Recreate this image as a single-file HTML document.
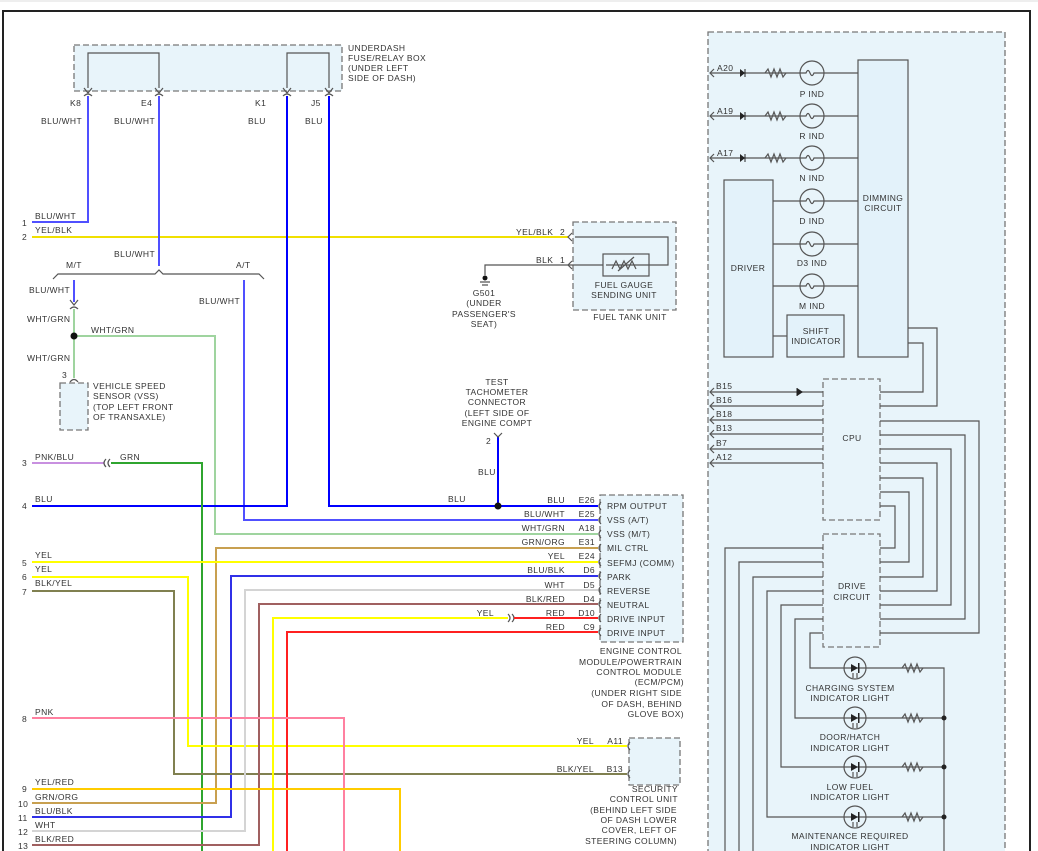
<!DOCTYPE html>
<html><head><meta charset="utf-8"><style>
html,body{margin:0;padding:0;background:#fff;}
svg{display:block;}
text{font-family:"Liberation Sans",sans-serif;font-size:8.5px;fill:#333;letter-spacing:0.4px;}
.w{fill:none;stroke-width:2;}
.g{fill:none;stroke:#555;stroke-width:1.2;}
.d{fill:#e8f4fa;stroke:#777;stroke-width:1.3;stroke-dasharray:6,3;}
.s{fill:#e3f2fa;stroke:#555;stroke-width:1.2;}
.r{text-anchor:end;}
.m{text-anchor:middle;}
</style></head><body>
<svg width="1038" height="851" viewBox="0 0 1038 851" xmlns="http://www.w3.org/2000/svg">
<rect x="0" y="0" width="1038" height="851" fill="#fff"/>
<line x1="0" y1="1" x2="1038" y2="1" stroke="#ddd"/>
<path d="M3 851 V11 H1030 V851" fill="none" stroke="#222" stroke-width="2"/>

<!-- Fuse box -->
<rect class="d" x="74" y="45" width="268" height="46"/>
<path class="g" d="M88 88 V53 H159 V88 M287 88 V53 H329 V88"/>
<g class="g"><path d="M84 88 L88 93 L92 88 M155 88 L159 93 L163 88 M283 88 L287 93 L291 88 M325 88 L329 93 L333 88"/>
<path d="M84 96 Q88 92 92 96 M155 96 Q159 92 163 96 M283 96 Q287 92 291 96 M325 96 Q329 92 333 96"/></g>
<text x="348" y="51">UNDERDASH</text><text x="348" y="61">FUSE/RELAY BOX</text><text x="348" y="71">(UNDER LEFT</text><text x="348" y="81">SIDE OF DASH)</text>
<text x="70" y="106">K8</text><text x="141" y="106">E4</text><text x="255" y="106">K1</text><text x="311" y="106">J5</text>
<text x="41" y="124">BLU/WHT</text><text x="114" y="124">BLU/WHT</text><text x="248" y="124">BLU</text><text x="305" y="124">BLU</text>

<!-- wires top-left -->
<path class="w" stroke="#5050ff" d="M88 96 V222 H32"/>
<text x="22" y="226">1</text><text x="35" y="219">BLU/WHT</text>
<path class="w" stroke="#f0e000" d="M32 237 H568"/>
<text x="22" y="240">2</text><text x="35" y="233">YEL/BLK</text>
<path class="w" stroke="#5050ff" d="M159 96 V266"/>
<text x="114" y="257">BLU/WHT</text>
<path class="g" d="M53 279 L58 274 H155 L159 270 L163 274 H259 L264 279"/>
<text x="66" y="268">M/T</text><text x="236" y="268">A/T</text>
<path class="w" stroke="#5050ff" d="M74 280 V302"/>
<path class="g" d="M70 300 L74 305 L78 300 M70 309 Q74 305 78 309"/>
<text x="29" y="293">BLU/WHT</text>
<path class="w" stroke="#9fd49f" d="M74 309 V378 M74 336 H215 V534 H598"/>
<circle cx="74" cy="336" r="3.5" fill="#111"/>
<text x="27" y="322">WHT/GRN</text><text x="91" y="333">WHT/GRN</text><text x="27" y="361">WHT/GRN</text>
<path class="g" d="M70 382 Q74 377 78 382"/><text x="62" y="378">3</text>
<rect class="d" x="60" y="383" width="28" height="47"/>
<text x="93" y="389">VEHICLE SPEED</text><text x="93" y="399">SENSOR (VSS)</text><text x="93" y="410">(TOP LEFT FRONT</text><text x="93" y="420">OF TRANSAXLE)</text>
<path class="w" stroke="#5050ff" d="M244 280 V520 H598"/>
<text x="199" y="304">BLU/WHT</text>

<!-- K1 / J5 -->
<path class="w" stroke="#0000ff" d="M287 96 V506 H32"/>
<text x="22" y="509">4</text><text x="35" y="502">BLU</text>
<path class="w" stroke="#0000ff" d="M329 96 V506 H598 M498 437 V506"/>
<circle cx="498" cy="506" r="3.5" fill="#111"/>
<path class="g" d="M494 433 L498 437 L502 433"/>
<text x="486" y="444">2</text><text x="478" y="475">BLU</text><text x="448" y="502">BLU</text>
<text class="m" x="497" y="385">TEST</text><text class="m" x="497" y="395">TACHOMETER</text><text class="m" x="497" y="405">CONNECTOR</text><text class="m" x="497" y="416">(LEFT SIDE OF</text><text class="m" x="497" y="426">ENGINE COMPT</text>

<!-- fuel tank -->
<rect class="d" x="573" y="222" width="103" height="88"/>
<path class="g" d="M485 275 V265 H603 M575 237 H668 V265 H649"/>
<rect class="g" x="603" y="254" width="46" height="22" fill="none"/>
<path class="g" d="M606 265 H649 M612 269 L616 261 L620 269 L624 261 L628 269 L632 261 L636 269 M618 271 L634 257"/>
<path class="g" d="M572 233 L568 237 L572 241 M572 261 L568 265 L572 269"/>
<circle cx="485" cy="278" r="2.5" fill="#111"/><path class="g" d="M480 282 H490 M482 285 H488"/>
<text x="516" y="235">YEL/BLK</text><text x="560" y="235">2</text><text x="536" y="263">BLK</text><text x="560" y="263">1</text>
<text class="m" x="624" y="288">FUEL GAUGE</text><text class="m" x="624" y="298">SENDING UNIT</text><text class="m" x="630" y="320">FUEL TANK UNIT</text>
<text class="m" x="484" y="296">G501</text><text class="m" x="484" y="306">(UNDER</text><text class="m" x="484" y="317">PASSENGER'S</text><text class="m" x="484" y="327">SEAT)</text>

<!-- left wires -->
<path class="w" stroke="#c890e0" d="M32 463 H104"/>
<path class="g" d="M106 459 Q102 463 106 467 M110 459 Q106 463 110 467"/>
<path class="w" stroke="#2fa52f" d="M111 463 H202 V851"/>
<text x="22" y="466">3</text><text x="35" y="460">PNK/BLU</text><text x="120" y="460">GRN</text>
<path class="w" stroke="#c8a050" d="M598 548 H216 V803 H32"/>
<path class="w" stroke="#ffff00" d="M32 562 H598"/>
<path class="w" stroke="#3030e8" d="M598 576 H231 V817 H32"/>
<path class="w" stroke="#ffff00" d="M32 577 H188 V746 H627"/>
<path class="w" stroke="#808050" d="M32 591 H174 V774 H627"/>
<path class="w" stroke="#d4d4d4" d="M598 590 H245 V831 H32"/>
<path class="w" stroke="#a06060" d="M598 604 H259 V845 H32"/>
<path class="w" stroke="#ffff00" d="M508 618 H273 V851"/>
<path class="g" d="M508 614 Q512 618 508 622 M512 614 Q516 618 512 622"/>
<path class="w" stroke="#ff2020" d="M514 618 H598"/>
<path class="w" stroke="#ff2020" d="M598 632 H287 V851"/>
<path class="w" stroke="#ff80a0" d="M32 718 H344 V851"/>
<path class="w" stroke="#ffcc00" d="M32 789 H400 V851"/>
<text x="22" y="566">5</text><text x="35" y="558">YEL</text>
<text x="22" y="580">6</text><text x="35" y="572">YEL</text>
<text x="22" y="595">7</text><text x="35" y="586">BLK/YEL</text>
<text x="22" y="722">8</text><text x="35" y="715">PNK</text>
<text x="22" y="792">9</text><text x="35" y="785">YEL/RED</text>
<text x="18" y="807">10</text><text x="35" y="800">GRN/ORG</text>
<text x="18" y="821">11</text><text x="35" y="814">BLU/BLK</text>
<text x="18" y="835">12</text><text x="35" y="828">WHT</text>
<text x="18" y="849">13</text><text x="35" y="842">BLK/RED</text>

<!-- ECM -->
<rect class="d" x="600" y="495" width="83" height="147"/>
<g class="g"><path d="M601 502 Q597 506 601 510 M601 516 Q597 520 601 524 M601 530 Q597 534 601 538 M601 544 Q597 548 601 552 M601 558 Q597 562 601 566 M601 572 Q597 576 601 580 M601 586 Q597 590 601 594 M601 600 Q597 604 601 608 M601 614 Q597 618 601 622 M601 628 Q597 632 601 636"/></g>
<g>
<text x="607" y="509">RPM OUTPUT</text><text x="607" y="523">VSS (A/T)</text><text x="607" y="537">VSS (M/T)</text><text x="607" y="551">MIL CTRL</text><text x="607" y="566">SEFMJ (COMM)</text><text x="607" y="580">PARK</text><text x="607" y="594">REVERSE</text><text x="607" y="608">NEUTRAL</text><text x="607" y="622">DRIVE INPUT</text><text x="607" y="636">DRIVE INPUT</text>
</g>
<g class="r">
<text class="r" x="595" y="503">E26</text><text class="r" x="595" y="517">E25</text><text class="r" x="595" y="531">A18</text><text class="r" x="595" y="545">E31</text><text class="r" x="595" y="559">E24</text><text class="r" x="595" y="573">D6</text><text class="r" x="595" y="588">D5</text><text class="r" x="595" y="602">D4</text><text class="r" x="595" y="616">D10</text><text class="r" x="595" y="630">C9</text>
<text class="r" x="565" y="503">BLU</text><text class="r" x="565" y="517">BLU/WHT</text><text class="r" x="565" y="531">WHT/GRN</text><text class="r" x="565" y="545">GRN/ORG</text><text class="r" x="565" y="559">YEL</text><text class="r" x="565" y="573">BLU/BLK</text><text class="r" x="565" y="588">WHT</text><text class="r" x="565" y="602">BLK/RED</text><text class="r" x="565" y="616">RED</text><text class="r" x="565" y="630">RED</text><text class="r" x="494" y="616">YEL</text>
</g>
<g class="r"><text class="r" x="682" y="654">ENGINE CONTROL</text><text class="r" x="682" y="665">MODULE/POWERTRAIN</text><text class="r" x="682" y="675">CONTROL MODULE</text><text class="r" x="684" y="685">(ECM/PCM)</text><text class="r" x="682" y="696">(UNDER RIGHT SIDE</text><text class="r" x="682" y="707">OF DASH, BEHIND</text><text class="r" x="684" y="717">GLOVE BOX)</text></g>

<!-- Security -->
<rect class="d" x="629" y="738" width="51" height="47"/>
<path class="g" d="M630 742 Q626 746 630 750 M630 770 Q626 774 630 778"/>
<text class="r" x="594" y="744">YEL</text><text class="r" x="623" y="744">A11</text>
<text class="r" x="594" y="772">BLK/YEL</text><text class="r" x="623" y="772">B13</text>
<g><text class="r" x="678" y="792">SECURITY</text><text class="r" x="678" y="802">CONTROL UNIT</text><text class="r" x="677" y="813">(BEHIND LEFT SIDE</text><text class="r" x="677" y="823">OF DASH LOWER</text><text class="r" x="677" y="833">COVER, LEFT OF</text><text class="r" x="677" y="844">STEERING COLUMN)</text></g>

<!-- Right gauge -->
<rect class="d" x="708" y="32" width="297" height="830"/>
<rect class="s" x="858" y="60" width="50" height="297"/>
<rect class="s" x="724" y="180" width="49" height="177"/>
<rect class="s" x="787" y="315" width="57" height="42"/>
<path class="g" d="M773 336 H787"/>
<text class="m" x="883" y="201">DIMMING</text><text class="m" x="883" y="211">CIRCUIT</text>
<text class="m" x="748" y="271">DRIVER</text>
<text class="m" x="816" y="334">SHIFT</text><text class="m" x="816" y="344">INDICATOR</text>
<g class="g">
<path d="M710 73 H858 M710 116 H858 M710 158 H858 M773 201 H858 M773 244 H858 M773 286 H858"/>
<path d="M714 69 L710 73 L714 77 M714 112 L710 116 L714 120 M714 154 L710 158 L714 162"/>
</g>
<g fill="#222"><path d="M745 73 L740 69 V77 Z M745 116 L740 112 V120 Z M745 158 L740 154 V162 Z"/><path d="M745 69 V77 M745 112 V120 M745 154 V162" stroke="#222"/></g>
<g class="g" fill="#e8f4fa">
<path d="M765 73 l3 -4 l3 8 l3 -8 l3 8 l3 -8 l3 8 l3 -4" fill="none"/>
<path d="M765 116 l3 -4 l3 8 l3 -8 l3 8 l3 -8 l3 8 l3 -4" fill="none"/>
<path d="M765 158 l3 -4 l3 8 l3 -8 l3 8 l3 -8 l3 8 l3 -4" fill="none"/>
</g>
<g class="g">
<circle cx="812" cy="73" r="12" fill="#e8f4fa"/><circle cx="812" cy="116" r="12" fill="#e8f4fa"/><circle cx="812" cy="158" r="12" fill="#e8f4fa"/><circle cx="812" cy="201" r="12" fill="#e8f4fa"/><circle cx="812" cy="244" r="12" fill="#e8f4fa"/><circle cx="812" cy="286" r="12" fill="#e8f4fa"/>
<path d="M800 73 H806 q2 -5 4 0 q2 5 4 0 H824 M800 116 H806 q2 -5 4 0 q2 5 4 0 H824 M800 158 H806 q2 -5 4 0 q2 5 4 0 H824 M800 201 H806 q2 -5 4 0 q2 5 4 0 H824 M800 244 H806 q2 -5 4 0 q2 5 4 0 H824 M800 286 H806 q2 -5 4 0 q2 5 4 0 H824"/>
</g>
<text class="m" x="812" y="97">P IND</text><text class="m" x="812" y="139">R IND</text><text class="m" x="812" y="181">N IND</text><text class="m" x="812" y="224">D IND</text><text class="m" x="812" y="266">D3 IND</text><text class="m" x="812" y="309">M IND</text>
<text x="717" y="71">A20</text><text x="717" y="114">A19</text><text x="717" y="156">A17</text>

<!-- CPU -->
<rect class="d" x="823" y="379" width="57" height="141"/>
<rect class="d" x="823" y="534" width="57" height="113"/>
<text class="m" x="852" y="441">CPU</text>
<text class="m" x="852" y="589">DRIVE</text><text class="m" x="852" y="600">CIRCUIT</text>
<g class="g">
<path d="M710 392 H823 M710 406 H823 M710 420 H823 M710 434 H823 M710 449 H823 M710 463 H823"/>
<path d="M714 388 L710 392 L714 396 M714 402 L710 406 L714 410 M714 416 L710 420 L714 424 M714 430 L710 434 L714 438 M714 445 L710 449 L714 453 M714 459 L710 463 L714 467"/>
<path d="M908 328 H937 V406 H880 M908 343 H923 V392 H880"/>
<path d="M880 421 H979 V633 H880 M880 435 H965 V619 H880 M880 449 H951 V605 H880 M880 463 H937 V591 H880 M880 478 H923 V577 H880 M880 492 H909 V562 H880 M880 506 H895 V548 H880"/>
<path d="M823 548 H725 V851 M823 562 H739 V851 M823 577 H753 V851 M823 591 H767 V817 H944 M823 605 H781 V767 H944 M823 619 H795 V718 H944 M823 633 H810 V668 H944 V851"/>
</g>
<path d="M803 392 L797 388 V396 Z" fill="#222"/><path d="M797 388 V396" stroke="#222"/>
<text x="716" y="389">B15</text><text x="716" y="403">B16</text><text x="716" y="417">B18</text><text x="716" y="431">B13</text><text x="716" y="446">B7</text><text x="716" y="460">A12</text>
<g class="g" fill="#e8f4fa">
<circle cx="855" cy="668" r="11"/><circle cx="855" cy="718" r="11"/><circle cx="855" cy="767" r="11"/><circle cx="855" cy="817" r="11"/>
</g>
<g class="g">
<path d="M902 668 l3 -4 l3 8 l3 -8 l3 8 l3 -8 l3 8 l3 -4 M902 718 l3 -4 l3 8 l3 -8 l3 8 l3 -8 l3 8 l3 -4 M902 767 l3 -4 l3 8 l3 -8 l3 8 l3 -8 l3 8 l3 -4 M902 817 l3 -4 l3 8 l3 -8 l3 8 l3 -8 l3 8 l3 -4"/>
<path d="M853 673 v5 M857 673 v5 M853 723 v5 M857 723 v5 M853 772 v5 M857 772 v5 M853 822 v5 M857 822 v5"/>
</g>
<g fill="#222"><path d="M851 664 L858 668 L851 672 Z M851 714 L858 718 L851 722 Z M851 763 L858 767 L851 771 Z M851 813 L858 817 L851 821 Z"/>
<rect x="858" y="663" width="1.5" height="10"/><rect x="858" y="713" width="1.5" height="10"/><rect x="858" y="762" width="1.5" height="10"/><rect x="858" y="812" width="1.5" height="10"/>
<circle cx="944" cy="718" r="2.5"/><circle cx="944" cy="767" r="2.5"/><circle cx="944" cy="817" r="2.5"/></g>
<text class="m" x="850" y="691">CHARGING SYSTEM</text><text class="m" x="850" y="701">INDICATOR LIGHT</text>
<text class="m" x="850" y="740">DOOR/HATCH</text><text class="m" x="850" y="751">INDICATOR LIGHT</text>
<text class="m" x="850" y="790">LOW FUEL</text><text class="m" x="850" y="800">INDICATOR LIGHT</text>
<text class="m" x="850" y="839">MAINTENANCE REQUIRED</text><text class="m" x="850" y="850">INDICATOR LIGHT</text>
</svg>
</body></html>
